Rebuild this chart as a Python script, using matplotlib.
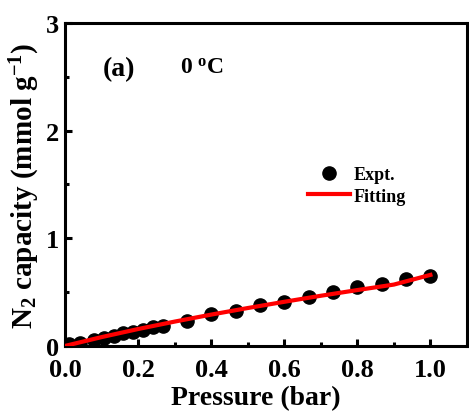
import numpy as np
import matplotlib
matplotlib.use("Agg")
import matplotlib.pyplot as plt
from matplotlib.ticker import MultipleLocator

# N2 isotherm at 0 C
pressure = [0.01, 0.04, 0.08, 0.107, 0.133, 0.16, 0.187, 0.213, 0.24, 0.267,
            0.333, 0.4, 0.467, 0.533, 0.6, 0.667, 0.733, 0.8, 0.867, 0.933, 1.0]
capacity = [0.016, 0.028, 0.059, 0.074, 0.096, 0.118, 0.133, 0.152, 0.173, 0.189,
            0.235, 0.297, 0.328, 0.381, 0.411, 0.458, 0.498, 0.545, 0.576, 0.622, 0.653]
fit_p = [0.0, 0.1, 0.2, 0.3, 0.4, 0.5, 0.6, 0.7, 0.8, 0.9, 1.0]
fit_q = [0.0, 0.082, 0.157, 0.226, 0.291, 0.352, 0.410, 0.466, 0.519, 0.570, 0.660]

plt.rcParams['font.family'] = 'Liberation Serif'
plt.rcParams['font.weight'] = 'bold'
plt.rcParams['mathtext.fontset'] = 'custom'
plt.rcParams['mathtext.rm'] = 'Liberation Serif:bold'
plt.rcParams['mathtext.bf'] = 'Liberation Serif:bold'
plt.rcParams['mathtext.default'] = 'bf'

fig = plt.figure(figsize=(4.69, 4.14), dpi=100)
ax = fig.add_axes([0.1386, 0.162, 0.857, 0.780])

ax.plot(pressure, capacity, 'o', color='black', markersize=9.5, label='Expt.', zorder=2)
ax.plot(fit_p, fit_q, '-', color='red', linewidth=3, label='Fitting', zorder=3)

ax.set_xlim(0, 1.1)
ax.set_ylim(0, 3)
ax.xaxis.set_major_locator(MultipleLocator(0.2))
ax.xaxis.set_minor_locator(MultipleLocator(0.1))
ax.yaxis.set_major_locator(MultipleLocator(1))
ax.yaxis.set_minor_locator(MultipleLocator(0.5))
ax.tick_params(which='both', direction='in', width=2.2, labelsize=19)
ax.tick_params(axis='x', pad=9)
ax.tick_params(axis='y', pad=4)
ax.tick_params(which='major', length=5)
ax.tick_params(which='minor', length=3)
for s in ax.spines.values():
    s.set_linewidth(2.2)

ax.set_xlabel('Pressure (bar)', fontsize=20, fontweight='bold')
ax.xaxis.set_label_coords(0.475, -0.12)
ax.set_ylabel('N$_2$ capacity (mmol g$^{-1}$)', fontsize=21, fontweight='bold', labelpad=3)

ax.text(0.095, 0.84, '(a)', transform=ax.transAxes, fontsize=20, fontweight='bold')
ax.text(0.285, 0.845, '0 $^{\\mathbf{o}}$C', transform=ax.transAxes, fontsize=17, fontweight='bold')

leg = ax.legend(loc='upper left', bbox_to_anchor=(0.583, 0.585), frameon=False,
                prop={'size': 13, 'weight': 'bold'}, handlelength=2.3,
                handletextpad=0.2, labelspacing=0.25, borderpad=0)

fig.savefig('out.png', dpi=100)
